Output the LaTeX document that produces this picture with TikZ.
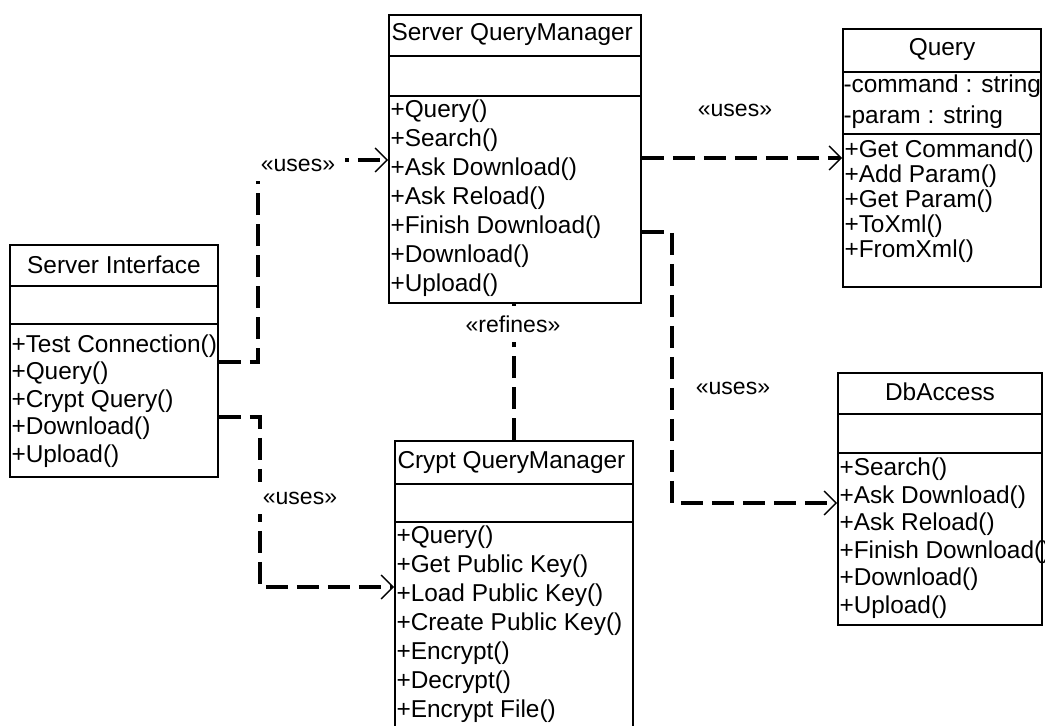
\documentclass[tikz,border=0pt]{standalone}
\usepackage{fontspec}
\setmainfont{Liberation Sans}
\usetikzlibrary{arrows.meta,positioning,calc,fit}

\begin{document}
\begin{tikzpicture}[x=0.5pt,y=-0.5pt,
    classbox/.style={draw, line width=0.9pt, inner sep=0pt},
    member/.style={anchor=west, inner sep=0pt, font=\fontsize{12.2}{13}\selectfont},
    title/.style={inner sep=0pt, font=\fontsize{12.2}{13}\selectfont},
    sepline/.style={line width=0.9pt},
    dep/.style={line width=2.2pt, dash pattern=on 11pt off 4.5pt,
        -{Straight Barb[length=6pt,width=12pt,line width=0.7pt]}},
    stereo/.style={fill=white, inner sep=5pt, font=\fontsize{11.5}{12}\selectfont}]
    \useasboundingbox (0,0) rectangle (1045,726);

    % Server query manager
    \node[classbox, fit={(389,15) (641,303)}] (sqm) {};
    \node[title, anchor=west] (sqm-t) at ($(sqm.north west)+(3,20)$) {Server QueryManager};
    \draw[sepline] ($(sqm.north west)+(0,42)$) -- ($(sqm.north east)+(0,42)$);
    \draw[sepline] ($(sqm.north west)+(0,82)$) -- ($(sqm.north east)+(0,82)$);
    \foreach \t [count=\i] in {+Query(), +Search(), +Ask Download(), +Ask Reload(),
        +Finish Download(), +Download(), +Upload()} {
        \node[member] (sqm-\i) at ($(sqm.north west)+(2,97+29*\i-29)$) {\t};
    }

    % Server interface
    \node[classbox, fit={(10,245) (218,477)}] (si) {};
    \node[title] (si-t) at ($(si.north)+(0,21)$) {Server Interface};
    \draw[sepline] ($(si.north west)+(0,42)$) -- ($(si.north east)+(0,42)$);
    \draw[sepline] ($(si.north west)+(0,80)$) -- ($(si.north east)+(0,80)$);
    \foreach \t [count=\i] in {+Test Connection(), +Query(), +Crypt Query(),
        +Download(), +Upload()} {
        \node[member] (si-\i) at ($(si.north west)+(2,74.5+27.5*\i)$) {\t};
    }

    % Query
    \node[classbox, fit={(843,29) (1041,287)}] (qry) {};
    \node[title] (qry-t) at ($(qry.north)+(0,21)$) {Query};
    \draw[sepline] ($(qry.north west)+(0,44)$) -- ($(qry.north east)+(0,44)$);
    \draw[sepline] ($(qry.north west)+(0,106)$) -- ($(qry.north east)+(0,106)$);
    \node[member] (qry-a1) at ($(qry.north west)+(1,58)$) {-command : string};
    \node[member] (qry-a2) at ($(qry.north west)+(1,89)$) {-param : string};
    \foreach \t [count=\i] in {+Get Command(), +Add Param(), +Get Param(),
        +ToXml(), +FromXml()} {
        \node[member] (qry-\i) at ($(qry.north west)+(2,98+25*\i)$) {\t};
    }

    % Db access
    \node[classbox, fit={(838,373) (1042,625)}] (dba) {};
    \node[title] (dba-t) at ($(dba.north)+(0,20)$) {DbAccess};
    \draw[sepline] ($(dba.north west)+(0,42)$) -- ($(dba.north east)+(0,42)$);
    \draw[sepline] ($(dba.north west)+(0,81)$) -- ($(dba.north east)+(0,81)$);
    \foreach \t [count=\i] in {+Search(), +Ask Download(), +Ask Reload(),
        +Finish Download(), +Download(), +Upload()} {
        \node[member] (dba-\i) at ($(dba.north west)+(2,69.4+27.6*\i)$) {\t};
    }

    % Crypt query manager
    \node[classbox, fit={(395,441) (633,760)}] (cqm) {};
    \node[title, anchor=west] (cqm-t) at ($(cqm.north west)+(3,22)$) {Crypt QueryManager};
    \draw[sepline] ($(cqm.north west)+(0,44)$) -- ($(cqm.north east)+(0,44)$);
    \draw[sepline] ($(cqm.north west)+(0,82)$) -- ($(cqm.north east)+(0,82)$);
    \foreach \t [count=\i] in {+Query(), +Get Public Key(), +Load Public Key(),
        +Create Public Key(), +Encrypt(), +Decrypt(), +Encrypt File()} {
        \node[member] (cqm-\i) at ($(cqm.north west)+(2,68+29*\i)$) {\t};
    }

    % Dependencies
    \coordinate (k1) at (258,362);
    \coordinate (k1b) at (258,160);
    \draw[dep] (si.east |- k1) -- (k1) -- (k1b) -- (sqm.west |- k1b);
    \node[stereo] (l1) at (298,165) {«uses»};

    \coordinate (k2) at (260,417);
    \coordinate (k2b) at (260,587);
    \draw[dep] (si.east |- k2) -- (k2) -- (k2b) -- (cqm.west |- k2b);
    \node[stereo] (l2) at (300,498) {«uses»};

    \draw[dep, -] (cqm.north) -- (cqm.north |- sqm.south);
    \node[stereo] (l3) at (513,324) {«refines»};

    \coordinate (k4) at (700,158);
    \draw[dep] (sqm.east |- k4) -- (qry.west |- k4);
    \node[stereo, fill=none] (l4) at (735,110) {«uses»};

    \coordinate (k5) at (672,232);
    \coordinate (k5b) at (672,503);
    \draw[dep] (sqm.east |- k5) -- (k5) -- (k5b) -- (dba.west |- k5b);
    \node[stereo, fill=none] (l5) at (733,388) {«uses»};
\end{tikzpicture}
\end{document}
